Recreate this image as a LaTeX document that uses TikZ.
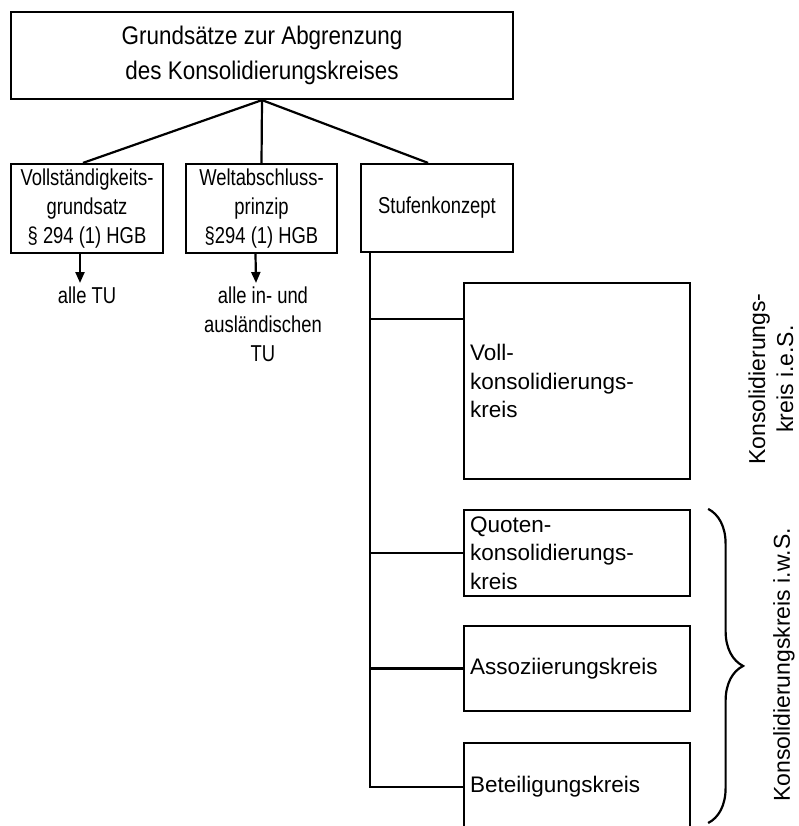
\documentclass[tikz,border=0pt]{standalone}
\usepackage{fontspec}
\setmainfont{Liberation Sans}
\newfontfamily\narrowfont[FakeStretch = 0.8]{Liberation Sans}
\newfontfamily\titlefont[FakeStretch = 0.88]{Liberation Sans}
\usetikzlibrary{arrows.meta, decorations.pathreplacing}

\begin{document}
\begin{tikzpicture}[x = 1pt, y = -1pt, > = {Triangle[length = 11pt, width = 9pt]}, line width = 2.2pt,
	box/.style = {draw, inner sep = 1pt, align = center, font = \narrowfont\fontsize{23}{29}\selectfont},
	stage/.style = {draw, inner sep = 6pt, text width = 214pt, align = left, font = \fontsize{22.5}{28.5}\selectfont},
	result/.style = {anchor = north, inner sep = 3pt, align = center, font = \narrowfont\fontsize{23}{29}\selectfont},
	side/.style = {rotate = 90, align = center, inner sep = 0pt, font = \fontsize{23}{28}\selectfont}]

	% Definition
	
	\def\X{577}		% Centre of the stage boxes
	
	\useasboundingbox (0, 0) rectangle (798, 826);
	
	% Top box
	
	\node [box, minimum width = 502pt, minimum height = 87pt, font = \titlefont\fontsize{25.5}{35}\selectfont] (title) at (262, 55.5) {Grundsätze zur Abgrenzung\\des Konsolidierungskreises};
	
	% Three principles
	
	\node [box, minimum width = 152pt, minimum height = 89pt] (vg) at (87, 208.5) {Vollständigkeits-\\grundsatz\\§ 294 (1) HGB};
	\node [box, minimum width = 151pt, minimum height = 89pt] (wp) at (261.5, 208.5) {Weltabschluss-\\prinzip\\§294 (1) HGB};
	\node [box, minimum width = 152pt, minimum height = 88pt] (sk) at (437, 208) {Stufenkonzept};
	
	\draw (title.south) -- ([xshift = -4pt]vg.north);
	\draw (title.south) -- (wp.north);
	\draw (title.south) -- ([xshift = -9pt]sk.north);
	
	% What they cover
	
	\node [result] (tu1) at (87, 283) {alle TU};
	\node [result] (tu2) at (263, 283) {alle in- und\\ausländischen\\TU};
	
	\draw [->] ([xshift = -7pt]vg.south) -- ([xshift = -7pt]tu1.north);
	\draw [->] ([xshift = -6pt]wp.south) -- ([xshift = -7pt]tu2.north);
	
	% Stages
	
	\node [stage, minimum height = 196pt] (kv) at (\X, 381) {Voll-\\konsolidierungs-\\kreis};
	\node [stage, minimum height = 86pt] (qk) at (\X, 553) {Quoten-\\konsolidierungs-\\kreis};
	\node [stage, minimum height = 85pt] (ak) at (\X, 668.5) {Assoziierungskreis};
	\node [stage, minimum height = 88pt] (bk) at (\X, 787) {Beteiligungskreis};
	
	\coordinate (stem) at ([xshift = 10pt]sk.south west);
	\coordinate (kvin) at ([yshift = -37pt]kv.north west);
	
	\draw (stem) |- (bk.west);
	\draw (stem |- kvin) -- (kvin);
	\draw (stem |- qk.west) -- (qk.west);
	\draw (stem |- ak.west) -- (ak.west);
	
	% Brace and side labels
	
	\coordinate (brtop) at ([xshift = 17pt]qk.north east);
	\coordinate (brbot) at (brtop |- 0, 823);
	
	\draw [decorate, decoration = {brace, amplitude = 35pt}] (brtop) -- (brbot);
	
	\node [side] (ies) at (771, 379) {Konsolidierungs-\\kreis i.e.S.};
	\node [side] (iws) at (784, 665) {Konsolidierungskreis i.w.S.};

\end{tikzpicture}
\end{document}
